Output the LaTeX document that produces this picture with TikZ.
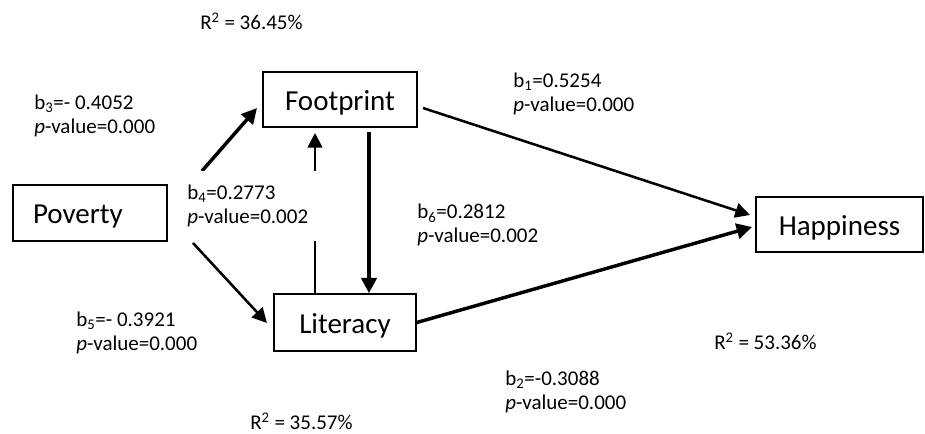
\documentclass[tikz,border=0pt]{standalone}
\usepackage{fontspec}
\setmainfont{Carlito}
\usetikzlibrary{arrows.meta}
\begin{document}
\begin{tikzpicture}[x=0.75pt,y=-0.75pt,
  varbox/.style={draw,line width=1.2pt,font=\fontsize{21.75}{26}\selectfont,inner sep=0pt,text height=16pt,text depth=0pt},
  lab/.style={font=\fontsize{15.75}{18}\selectfont,align=left,anchor=north west,inner sep=0pt},
  rsq/.style={font=\fontsize{15.75}{18}\selectfont,anchor=west,inner sep=0pt},
  thickarr/.style={line width=2.6pt,-{Triangle[length=11.5pt,width=11.5pt]}},
  thinarr/.style={line width=1.9pt,-{Triangle[length=11pt,width=11pt]}}]
\useasboundingbox (0,0) rectangle (925,434);

% variable boxes
\node[varbox,minimum width=115.5pt,minimum height=42pt,inner xsep=15pt,text width=85.5pt,align=left] (Poverty) at (90,213) {Poverty};
\node[varbox,minimum width=115.5pt,minimum height=41.25pt] (Footprint) at (340,99.5) {Footprint};
\node[varbox,minimum width=106.5pt,minimum height=42.75pt] (Literacy) at (345,322.5) {Literacy};
\node[varbox,minimum width=125pt,minimum height=41.25pt] (Happiness) at (839.5,224.5) {Happiness};

% connector end points
\coordinate (pfS) at (202,171);
\coordinate (pfE) at (257,108);
\coordinate (plS) at (193,243);
\coordinate (plE) at (267,323);
\coordinate (flS) at (369,132);
\coordinate (lfE) at (315,133);
\coordinate (fhS) at (423,108);
\coordinate (fhE) at (750,215);
\coordinate (lhE) at (752,227);

% connectors
\draw[thickarr] (pfS) -- (pfE);
\draw[thinarr] (plS) -- (plE);
\draw[thickarr] (flS) -- (flS |- Literacy.north);
\draw[thinarr] (lfE |- Literacy.north) -- (lfE);
\draw[thinarr] (fhS) -- (fhE);
\draw[thickarr] (Literacy.east) -- (lhE);

% coefficient labels
\node[lab] (b3) at (34,95) {b\textsubscript{3}=- 0.4052\\\textit{p}-value=0.000};
\node[lab] (b1) at (513,73) {b\textsubscript{1}=0.5254\\\textit{p}-value=0.000};
\node[lab,fill=white,anchor=west,text width=99.75pt,minimum height=52.5pt] (b4) at (187,206) {b\textsubscript{4}=0.2773\\\textit{p}-value=0.002};
\node[lab] (b6) at (417,204) {b\textsubscript{6}=0.2812\\\textit{p}-value=0.002};
\node[lab] (b5) at (76,312) {b\textsubscript{5}=- 0.3921\\\textit{p}-value=0.000};
\node[lab] (b2) at (505,371) {b\textsubscript{2}=-0.3088\\\textit{p}-value=0.000};

% R squared labels
\node[rsq] (r1) at (200,21) {R\textsuperscript{2} = 36.45\%};
\node[rsq] (r2) at (250,421) {R\textsuperscript{2} = 35.57\%};
\node[rsq] (r3) at (714,341) {R\textsuperscript{2} = 53.36\%};
\end{tikzpicture}
\end{document}
